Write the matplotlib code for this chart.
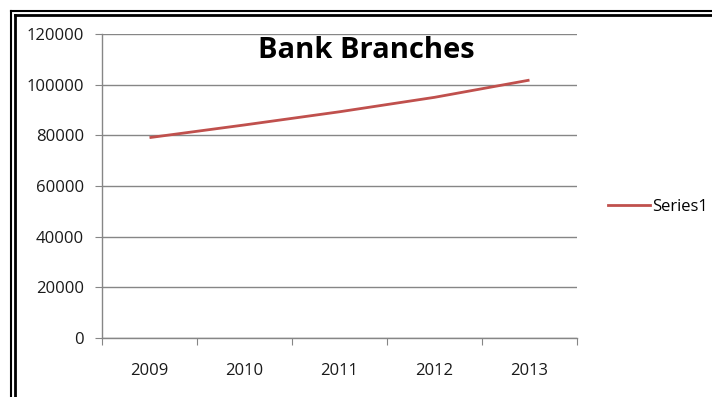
import matplotlib.pyplot as plt
from matplotlib.lines import Line2D

years = ['2009', '2010', '2011', '2012', '2013']
branches = [79100, 84100, 89300, 95000, 101800]
y_ticks = [0, 20000, 40000, 60000, 80000, 100000, 120000]

plt.rcParams['font.family'] = ['Open Sans', 'DejaVu Sans']

fig = plt.figure(figsize=(7.12, 3.97), dpi=100)
ax = fig.add_axes([102 / 712, 1 - 338 / 397, 475 / 712, 304 / 397])

x = [i + 0.5 for i in range(len(years))]
ax.plot(x, branches, color='#C0504D', linewidth=2, label='Series1', solid_capstyle='butt')

ax.set_xlim(0, len(years))
ax.set_ylim(0, 120000)
ax.set_yticks(y_ticks)
ax.set_yticklabels([str(v) for v in y_ticks])
ax.set_xticks(range(len(years) + 1))
ax.set_xticklabels([])
ax.set_xticks(x, minor=True)
ax.set_xticklabels(years, minor=True)
ax.tick_params(axis='x', which='minor', length=0, pad=18)
ax.tick_params(axis='x', which='major', length=5, color='#868686', direction='out')
ax.tick_params(axis='y', length=5, color='#868686', direction='out', pad=8)
ax.tick_params(which='both', labelsize=12, labelcolor='#1a1a1a')

ax.grid(axis='y', color='#868686', linewidth=1)
ax.set_axisbelow(True)
for side in ['top', 'right']:
    ax.spines[side].set_visible(False)
for side in ['left', 'bottom']:
    ax.spines[side].set_color('#868686')
    ax.spines[side].set_linewidth(1)

ax.text(366 / 712, 1 - 50 / 397, 'Bank Branches', transform=fig.transFigure, ha='center',
        va='center', fontsize=21, fontweight='bold', color='black')

leg = fig.legend(handles=[Line2D([0], [0], color='#C0504D', linewidth=2)], labels=['Series1'],
                 loc='center left', bbox_to_anchor=(600 / 712, 1 - 207 / 397), frameon=False,
                 fontsize=12, handlelength=2.5, handletextpad=0.1, borderpad=0)

# double border frame
for y0 in [11, 14.5]:
    fig.add_artist(Line2D([x0 / 712 for x0 in (11 if y0 == 11 else 15, 712)],
                          [1 - y0 / 397] * 2, color='black', linewidth=1.5 if y0 == 11 else 2))
for x0 in [11, 15]:
    fig.add_artist(Line2D([x0 / 712] * 2, [0, 1 - (11 if x0 == 11 else 14.5) / 397],
                          color='black', linewidth=1.5 if x0 == 11 else 2))

fig.savefig('out.png', dpi=100)
